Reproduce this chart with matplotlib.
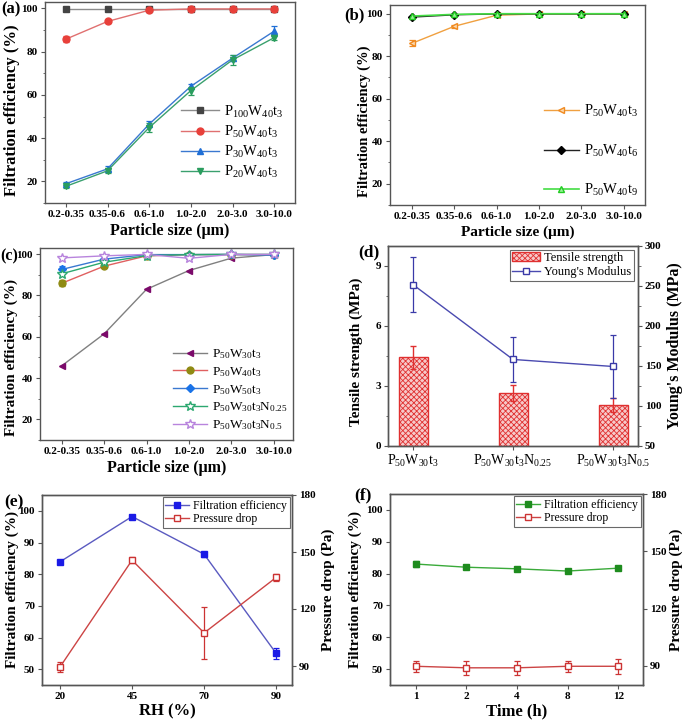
import numpy as np
import matplotlib
matplotlib.use('Agg')
import matplotlib.pyplot as plt
from matplotlib.ticker import MultipleLocator, AutoMinorLocator

plt.rcParams['font.family'] = 'Liberation Serif'
plt.rcParams['mathtext.fontset'] = 'custom'
plt.rcParams['mathtext.rm'] = 'Liberation Serif'
plt.rcParams['mathtext.it'] = 'Liberation Serif'
plt.rcParams['mathtext.bf'] = 'Liberation Serif:bold'
plt.rcParams['hatch.linewidth'] = 0.6

# data
sizes = ['0.2-0.35', '0.35-0.6', '0.6-1.0', '1.0-2.0', '2.0-3.0', '3.0-10.0']

# (a) grammage series
a_p100 = [99.8, 99.8, 99.8, 99.8, 99.8, 99.8]
a_p50 = [85.8, 94.0, 99.2, 99.8, 99.8, 99.8]
a_p50_err = [1.5, 0.5, 0.4, 0.2, 0.2, 0.2]
a_p30 = [18.9, 25.8, 46.5, 64.0, 77.0, 89.5]
a_p30_err = [0.8, 1.2, 1.5, 1.0, 1.5, 2.2]
a_p20 = [17.7, 24.9, 44.9, 62.0, 76.2, 86.5]
a_p20_err = [0.8, 1.2, 2.0, 1.8, 2.5, 1.0]

# (b) time series
b_t3 = [86.0, 94.0, 99.2, 99.8, 99.8, 99.8]
b_t3_err = [1.5, 0.6, 0.4, 0.2, 0.2, 0.2]
b_t6 = [98.3, 99.4, 99.8, 99.8, 99.8, 99.8]
b_t9 = [98.8, 99.6, 99.9, 99.9, 99.9, 99.9]

# (c) nanofibre series
c_w30 = [45.9, 61.4, 83.0, 92.1, 98.1, 99.8]
c_w40 = [85.9, 94.2, 99.2, 99.8, 99.8, 99.8]
c_w40_err = [1.5, 0.6, 0.3, 0.2, 0.2, 0.2]
c_w50 = [92.6, 97.6, 99.8, 99.8, 99.9, 99.5]
c_w50_err = [1.5, 0.6, 0.3, 0.2, 0.2, 0.2]
c_n025 = [90.5, 96.1, 99.3, 99.8, 99.9, 99.9]
c_n05 = [98.2, 99.2, 99.9, 98.0, 99.9, 99.9]

# (d) mechanics
d_samples = [r'$\mathrm{P_{50}W_{30}t_{3}}$', r'$\mathrm{P_{50}W_{30}t_{3}N_{0.25}}$', r'$\mathrm{P_{50}W_{30}t_{3}N_{0.5}}$']
d_tensile = [4.43, 2.63, 2.03]
d_tensile_err = [0.58, 0.40, 0.35]
d_young = [251.7, 158.2, 149.4]
d_young_err = [34, 28, 39]

# (e) humidity
rh = ['20', '45', '70', '90']
e_fe = [83.9, 98.2, 86.3, 55.0]
e_fe_err = [0.4, 0.3, 0.8, 1.8]
e_pd = [89.5, 145.7, 107.4, 136.6]
e_pd_err = [2.5, 1.5, 13.5, 2.0]

# (f) time
hours = ['1', '2', '4', '8', '12']
f_fe = [83.0, 82.0, 81.5, 80.8, 81.7]
f_fe_err = [0.8, 0.3, 0.3, 0.3, 0.3]
f_pd = [89.8, 89.0, 89.0, 89.8, 89.8]
f_pd_err = [3.0, 3.6, 3.6, 2.8, 4.0]

W, H = 685, 721
fig = plt.figure(figsize=(W / 100, H / 100), dpi=100)

def box(l, t, r, b):
    return [l / W, 1 - b / H, (r - l) / W, (b - t) / H]

frame = '#555555'

def style(ax):
    for s in ax.spines.values():
        s.set_color(frame)
        s.set_linewidth(1.0)
    ax.tick_params(direction='out', length=3, width=0.8, labelsize=8, color=frame, pad=2)
    ax.tick_params(which='minor', direction='out', length=1.8, width=0.6, color=frame)
    for lab in ax.get_xticklabels() + ax.get_yticklabels():
        lab.set_fontweight('bold')

def series(ax, x, y, err, marker, line, face, edge, ms, label, lw=1):
    if err is not None:
        ax.errorbar(x, y, yerr=err, fmt='none', ecolor=edge, elinewidth=0.9, capsize=2.2, capthick=0.9)
    h, = ax.plot(x, y, '-', marker=marker, color=line, mfc=face, mec=edge, ms=ms, lw=lw, label=label)
    return h

x6 = np.arange(len(sizes))

# ---- (a)
ax = fig.add_axes(box(45, 2, 295, 203))
series(ax, x6, a_p100, None, 's', '#8c8c8c', '#444444', '#444444', 4.5, r'$\mathrm{P_{100}W_{40}t_{3}}$')
series(ax, x6, a_p50, a_p50_err, 'o', '#e07070', '#e8403a', '#e8403a', 5, r'$\mathrm{P_{50}W_{40}t_{3}}$')
series(ax, x6, a_p30, a_p30_err, '^', '#3a78d0', '#1f6fd6', '#1f6fd6', 5, r'$\mathrm{P_{30}W_{40}t_{3}}$')
series(ax, x6, a_p20, a_p20_err, 'v', '#3aa06e', '#2a9d5e', '#2a9d5e', 5, r'$\mathrm{P_{20}W_{40}t_{3}}$')
ax.set_xlim(-0.5, 5.5)
ax.set_ylim(10, 103)
ax.set_xticks(x6, sizes)
ax.set_yticks([20, 40, 60, 80, 100])
ax.yaxis.set_minor_locator(MultipleLocator(10))
style(ax)
ax.set_xlabel('Particle size (μm)', fontsize=11.5, fontweight='bold', labelpad=3)
ax.set_ylabel('Filtration efficiency (%)', fontsize=12, fontweight='bold')
ax.yaxis.set_label_coords(-0.1, 0.46)
ax.legend(loc='lower right', bbox_to_anchor=(0.99, 0.07), frameon=False, fontsize=10.5, handlelength=2.6,
          labelspacing=0.28, borderaxespad=0.2, handletextpad=0.4)
fig.text(1 / W, 1 - 9 / H, '(a)', fontsize=12, fontweight='bold', va='center')

# ---- (b)
ax = fig.add_axes(box(390, 5, 645, 205))
series(ax, x6, b_t3, b_t3_err, '<', '#f0a040', '#fbd9b0', '#f08a20', 5, r'$\mathrm{P_{50}W_{40}t_{3}}$')
series(ax, x6, b_t6, None, 'D', '#222222', '#000000', '#000000', 4, r'$\mathrm{P_{50}W_{40}t_{6}}$')
series(ax, x6, b_t9, None, '^', '#44dd44', '#9af09a', '#22cc22', 5, r'$\mathrm{P_{50}W_{40}t_{9}}$', lw=1.2)
ax.set_xlim(-0.52, 5.5)
ax.set_ylim(10, 104)
ax.set_xticks(x6, sizes)
ax.set_yticks([20, 40, 60, 80, 100])
ax.yaxis.set_minor_locator(MultipleLocator(10))
style(ax)
ax.set_xlabel('Particle size (μm)', fontsize=11, fontweight='bold', labelpad=3)
ax.set_ylabel('Filtration efficiency (%)', fontsize=10.5, fontweight='bold')
ax.yaxis.set_label_coords(-0.075, 0.42)
ax.legend(loc='lower right', bbox_to_anchor=(1.01, -0.01), frameon=False, fontsize=10.5, handlelength=2.4,
          labelspacing=1.6, borderaxespad=0.2, handletextpad=0.4)
fig.text(344 / W, 1 - 15 / H, '(b)', fontsize=12, fontweight='bold', va='center')

# ---- (c)
ax = fig.add_axes(box(40, 248, 293, 440))
series(ax, x6, c_w30, None, '<', '#808080', '#7b0a6a', '#7b0a6a', 5, r'$\mathrm{P_{50}W_{30}t_{3}}$')
series(ax, x6, c_w40, c_w40_err, 'o', '#e06060', '#8f8a13', '#8f8a13', 5, r'$\mathrm{P_{50}W_{40}t_{3}}$')
series(ax, x6, c_w50, c_w50_err, 'D', '#3a78d0', '#1a73e8', '#1a73e8', 4.5, r'$\mathrm{P_{50}W_{50}t_{3}}$')
series(ax, x6, c_n025, None, '*', '#2ca870', 'white', '#2ca870', 7, r'$\mathrm{P_{50}W_{30}t_{3}N_{0.25}}$')
series(ax, x6, c_n05, None, '*', '#b884dd', 'white', '#b884dd', 7, r'$\mathrm{P_{50}W_{30}t_{3}N_{0.5}}$')
ax.set_xlim(-0.51, 5.45)
ax.set_ylim(10, 103)
ax.set_xticks(x6, sizes)
ax.set_yticks([20, 40, 60, 80, 100])
ax.yaxis.set_minor_locator(MultipleLocator(10))
style(ax)
ax.set_xlabel('Particle size (μm)', fontsize=11.5, fontweight='bold', labelpad=3)
ax.set_ylabel('Filtration efficiency (%)', fontsize=11, fontweight='bold')
ax.yaxis.set_label_coords(-0.085, 0.43)
ax.legend(loc='lower right', bbox_to_anchor=(1.01, 0.0), frameon=False, fontsize=9.5, handlelength=2.6,
          labelspacing=0.3, borderaxespad=0.2, handletextpad=0.4)
fig.text(0 / W, 1 - 256 / H, '(c)', fontsize=11.5, fontweight='bold', va='center')

# ---- (d)
ax = fig.add_axes(box(388, 246, 638, 446))
x3 = np.arange(len(d_samples))
bars = ax.bar(x3, d_tensile, width=0.29, color='#f6c9c9', edgecolor='#e03030', hatch='xxxxxx', lw=1,
              yerr=d_tensile_err, error_kw=dict(ecolor='#e03030', elinewidth=1, capsize=2.5, capthick=1))
ax.set_xlim(-0.25, 2.25)
ax.set_ylim(0, 10)
ax.set_yticks([0, 3, 6, 9])
ax.yaxis.set_minor_locator(AutoMinorLocator(2))
ax.set_xticks(x3, d_samples)
ax2 = ax.twinx()
ln = series(ax2, x3, d_young, d_young_err, 's', '#4a4ab0', 'white', '#3a3aa8', 4, "Young's Modulus")
ax2.set_ylim(50, 300)
ax2.set_yticks([50, 100, 150, 200, 250, 300])
ax2.yaxis.set_minor_locator(AutoMinorLocator(2))
style(ax)
style(ax2)
for lab in ax.get_xticklabels():
    lab.set_fontsize(10)
ax.set_ylabel('Tensile strength (MPa)', fontsize=11, fontweight='bold')
ax.yaxis.set_label_coords(-0.1, 0.47)
ax2.set_ylabel("Young's Modulus (MPa)", fontsize=11.5, fontweight='bold')
ax2.yaxis.set_label_coords(1.115, 0.5)
leg = ax2.legend([bars, ln], ['Tensile strength', "Young's Modulus"], loc='upper right', fontsize=9, frameon=True,
                 fancybox=False, edgecolor='#444444', handlelength=2.2, borderpad=0.2, labelspacing=0.15,
                 borderaxespad=0.3, handletextpad=0.4)
leg.get_frame().set_linewidth(0.8)
fig.text(358 / W, 1 - 252 / H, '(d)', fontsize=12.5, fontweight='bold', va='center')

# ---- (e)
ax = fig.add_axes(box(42, 495, 292, 685))
x4 = np.arange(len(rh))
h1 = series(ax, x4, e_fe, e_fe_err, 's', '#5a5ac0', '#1a1ae6', '#1a1ae6', 4, 'Filtration efficiency')
ax.set_xlim(-0.25, 3.22)
ax.set_ylim(45, 105)
ax.set_yticks([50, 60, 70, 80, 90, 100])
ax.set_xticks(x4, rh)
ax2 = ax.twinx()
h2 = series(ax2, x4, e_pd, e_pd_err, 's', '#cc4444', 'white', '#cc3333', 4, 'Pressure drop')
ax2.set_ylim(80, 180)
ax2.set_yticks([90, 120, 150, 180])
style(ax)
style(ax2)
ax.set_xlabel('RH (%)', fontsize=12, fontweight='bold', labelpad=2)
ax.set_ylabel('Filtration efficiency (%)', fontsize=11, fontweight='bold')
ax.yaxis.set_label_coords(-0.09, 0.5)
ax2.set_ylabel('Pressure drop (Pa)', fontsize=11, fontweight='bold')
ax2.yaxis.set_label_coords(1.12, 0.5)
leg = ax2.legend([h1, h2], ['Filtration efficiency', 'Pressure drop'], loc='upper right', fontsize=8.5, frameon=True,
                 fancybox=False, edgecolor='#444444', handlelength=2.0, borderpad=0.2, labelspacing=0.15,
                 borderaxespad=0.2, handletextpad=0.4)
leg.get_frame().set_linewidth(0.8)
fig.text(4 / W, 1 - 502 / H, '(e)', fontsize=12.5, fontweight='bold', va='center')

# ---- (f)
ax = fig.add_axes(box(390, 494, 643, 685))
x5 = np.arange(len(hours))
h1 = series(ax, x5, f_fe, f_fe_err, 's', '#3aaa3a', '#1e8c1e', '#1e8c1e', 4, 'Filtration efficiency')
ax.set_xlim(-0.51, 4.49)
ax.set_ylim(45, 105)
ax.set_yticks([50, 60, 70, 80, 90, 100])
ax.set_xticks(x5, hours)
ax2 = ax.twinx()
h2 = series(ax2, x5, f_pd, f_pd_err, 's', '#cc4444', 'white', '#cc3333', 4, 'Pressure drop')
ax2.set_ylim(80, 180)
ax2.set_yticks([90, 120, 150, 180])
style(ax)
style(ax2)
ax.set_xlabel('Time (h)', fontsize=12, fontweight='bold', labelpad=2)
ax.set_ylabel('Filtration efficiency (%)', fontsize=11, fontweight='bold')
ax.yaxis.set_label_coords(-0.11, 0.5)
ax2.set_ylabel('Pressure drop (Pa)', fontsize=11, fontweight='bold')
ax2.yaxis.set_label_coords(1.105, 0.5)
leg = ax2.legend([h1, h2], ['Filtration efficiency', 'Pressure drop'], loc='upper right', fontsize=8.5, frameon=True,
                 fancybox=False, edgecolor='#444444', handlelength=2.0, borderpad=0.2, labelspacing=0.15,
                 borderaxespad=0.2, handletextpad=0.4)
leg.get_frame().set_linewidth(0.8)
fig.text(354 / W, 1 - 495 / H, '(f)', fontsize=12.5, fontweight='bold', va='center')

fig.savefig('out.png', dpi=100)
